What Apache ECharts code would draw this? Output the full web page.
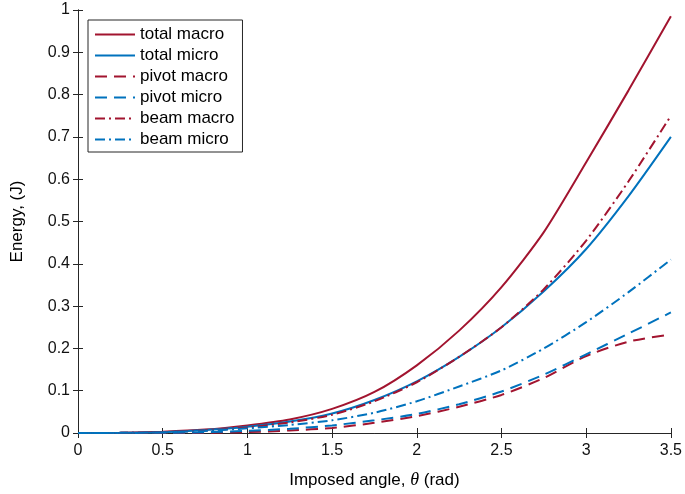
<!DOCTYPE html>
<html>
<head>
<meta charset="utf-8">
<script src="https://cdn.jsdelivr.net/npm/echarts@6/dist/echarts.min.js"></script>
<style>
  html, body { margin: 0; padding: 0; background: #fff; }
  #chart { width: 685px; height: 494px; }
</style>
</head>
<body>
<div id="chart"></div>
<script>
// angle (rad)
var theta = [0, 0.25, 0.5, 0.75, 1, 1.25, 1.5, 1.75, 2, 2.25, 2.5, 2.75, 3, 3.25, 3.5];
// energies (J)
var totalMacro = [0, 0.0005, 0.003, 0.008, 0.018, 0.032, 0.057, 0.097, 0.16, 0.242, 0.345, 0.475, 0.64, 0.81, 0.985];
var totalMicro = [0, 0.0004, 0.002, 0.007, 0.015, 0.027, 0.046, 0.078, 0.122, 0.18, 0.25, 0.335, 0.435, 0.56, 0.70];
var pivotMacro = [0, 0, 0, 0.0005, 0.002, 0.006, 0.012, 0.024, 0.04, 0.062, 0.09, 0.13, 0.182, 0.216, 0.233];
var pivotMicro = [0, 0, 0.0005, 0.002, 0.005, 0.01, 0.018, 0.03, 0.045, 0.068, 0.098, 0.138, 0.186, 0.235, 0.285];
var beamMacro = [0, 0.0003, 0.0015, 0.006, 0.013, 0.025, 0.043, 0.075, 0.12, 0.18, 0.25, 0.34, 0.455, 0.595, 0.75];
var beamMicro = [0, 0.0003, 0.0015, 0.005, 0.011, 0.019, 0.03, 0.048, 0.075, 0.11, 0.148, 0.2, 0.262, 0.333, 0.41];

var RED = '#A2142F';
var BLUE = '#0072BD';
var FONT = 'Liberation Sans, Arial, sans-serif';

function pairs(ys) {
    return theta.map(function (x, i) { return [x, ys[i]]; });
}

function line(name, ys, color, dash) {
    return {
        name: name,
        type: 'line',
        data: pairs(ys),
        symbol: 'none',
        smooth: 0.25,
        lineStyle: { color: color, width: 2, type: dash },
        itemStyle: { color: color }
    };
}

var myChart = echarts.init(document.getElementById('chart'));
var tickStyle = { inside: true, length: 5, lineStyle: { color: '#262626', width: 1 } };
myChart.setOption({
    animation: false,
    grid: { left: 78, right: 12, top: 10, bottom: 59, containLabel: false },
    legend: {
        orient: 'vertical',
        left: 88,
        top: 20,
        padding: [6, 8, 4, 6],
        itemGap: 4,
        itemWidth: 40,
        itemHeight: 17,
        backgroundColor: '#fff',
        borderColor: '#262626',
        borderWidth: 1,
        borderRadius: 0,
        itemStyle: { opacity: 0 },
        textStyle: { fontFamily: FONT, fontSize: 17, color: '#000', padding: [0, 0, 0, 0] },
        data: ['total macro', 'total micro', 'pivot macro', 'pivot micro', 'beam macro', 'beam micro']
    },
    xAxis: [{
        type: 'value',
        min: 0,
        max: 3.5,
        interval: 0.5,
        name: 'Imposed angle, {i|θ} (rad)',
        nameLocation: 'middle',
        nameGap: 38,
        nameTextStyle: {
            fontFamily: FONT, fontSize: 17, color: '#000',
            rich: { i: { fontFamily: 'Liberation Serif, serif', fontStyle: 'italic', fontSize: 18, color: '#000' } }
        },
        axisLine: { lineStyle: { color: '#262626', width: 1 } },
        axisTick: tickStyle,
        axisLabel: { fontFamily: FONT, fontSize: 16, color: '#111', margin: 10 },
        splitLine: { show: false }
    }, {
        type: 'value',
        position: 'top',
        min: 0,
        max: 3.5,
        interval: 0.5,
        axisLine: { lineStyle: { color: '#262626', width: 1 } },
        axisTick: tickStyle,
        axisLabel: { show: false },
        splitLine: { show: false }
    }],
    yAxis: [{
        type: 'value',
        min: 0,
        max: 1,
        interval: 0.1,
        name: 'Energy, (J)',
        nameLocation: 'middle',
        nameGap: 52,
        nameTextStyle: { fontFamily: FONT, fontSize: 17, color: '#000' },
        axisLine: { lineStyle: { color: '#262626', width: 1 } },
        axisTick: tickStyle,
        axisLabel: { fontFamily: FONT, fontSize: 16, color: '#111', margin: 8 },
        splitLine: { show: false }
    }, {
        type: 'value',
        position: 'right',
        min: 0,
        max: 1,
        interval: 0.1,
        axisLine: { show: true, lineStyle: { color: '#262626', width: 1 } },
        axisTick: tickStyle,
        axisLabel: { show: false },
        splitLine: { show: false }
    }],
    series: [
        line('total macro', totalMacro, RED, 'solid'),
        line('total micro', totalMicro, BLUE, 'solid'),
        line('pivot macro', pivotMacro, RED, [12, 7]),
        line('pivot micro', pivotMicro, BLUE, [12, 7]),
        line('beam macro', beamMacro, RED, [10, 4, 2, 4]),
        line('beam micro', beamMicro, BLUE, [10, 4, 2, 4])
    ]
});
</script>
</body>
</html>
